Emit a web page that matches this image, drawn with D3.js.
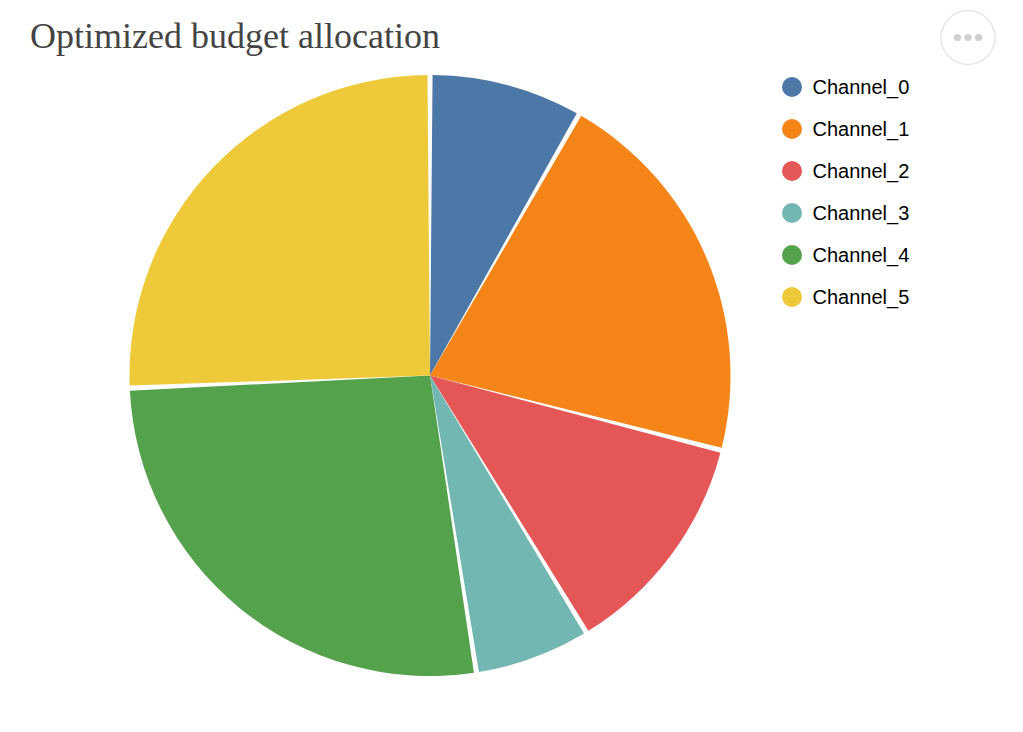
<!DOCTYPE html>
<html>
<head>
<meta charset="utf-8">
<script src="https://cdn.jsdelivr.net/npm/d3@7"></script>
<style>
  html, body { margin: 0; padding: 0; background: #fff; }
  svg { display: block; }
</style>
</head>
<body>
<svg id="chart" width="1023" height="732"></svg>
<script>
const categories = ["Channel_0", "Channel_1", "Channel_2", "Channel_3", "Channel_4", "Channel_5"];
const values = [8.26, 20.74, 12.30, 6.23, 26.80, 25.67];
const colors = ["#4c78a8", "#f58518", "#e45756", "#72b7b2", "#54a24b", "#eeca3b"];
const title = "Optimized budget allocation";

const svg = d3.select("#chart");
const cx = 430, cy = 375.5, r = 300.5;

const color = d3.scaleOrdinal().domain(categories).range(colors);

const pie = d3.pie().sort(null).value(d => d.value);
const data = categories.map((c, i) => ({ name: c, value: values[i] }));
const arc = d3.arc().innerRadius(0).outerRadius(r).padAngle(0.017);

svg.append("g")
  .attr("transform", `translate(${cx},${cy})`)
  .selectAll("path")
  .data(pie(data))
  .join("path")
  .attr("d", arc)
  .attr("fill", d => color(d.data.name));

// Title
svg.append("text")
  .attr("x", 30)
  .attr("y", 48)
  .attr("font-family", "'Liberation Serif', 'Times New Roman', serif")
  .attr("font-size", 36)
  .attr("fill", "#444")
  .text(title);

// Legend
const legendY = d3.scalePoint().domain(categories).range([87, 297]);
const lg = svg.append("g");
const items = lg.selectAll("g").data(categories).join("g")
  .attr("transform", d => `translate(792,${legendY(d)})`);
items.append("circle").attr("r", 10).attr("fill", d => color(d));
items.append("text")
  .attr("x", 20.5)
  .attr("dy", "0.35em")
  .attr("font-family", "'Liberation Sans', Arial, Helvetica, sans-serif")
  .attr("font-size", 20)
  .attr("fill", "#000")
  .text(d => d);

// Actions button
const btn = svg.append("g").attr("transform", "translate(968,37.5)");
btn.append("circle").attr("r", 27).attr("fill", "#fff").attr("stroke", "#e6e6e6").attr("stroke-width", 1.5);
btn.selectAll("circle.dot").data([-10.5, 0, 10.5]).join("circle")
  .attr("class", "dot").attr("cx", d => d).attr("r", 3.6).attr("fill", "#cfcfcf");
</script>
</body>
</html>
